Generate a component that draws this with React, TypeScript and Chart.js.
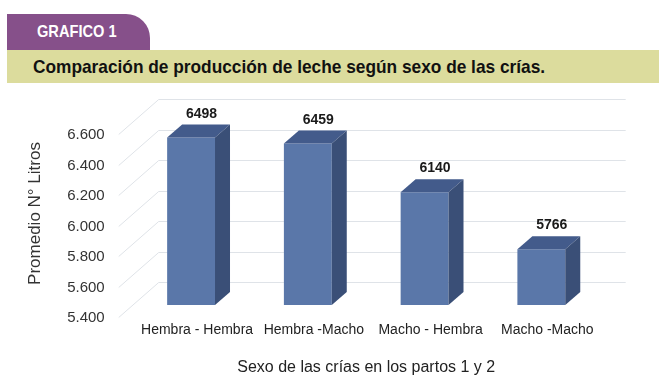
import React, { useEffect, useRef } from 'react';
import { Chart, registerables } from 'chart.js';

Chart.register(...registerables);

// ---- data ----
const categories = ['Hembra - Hembra', 'Hembra -Macho', 'Macho - Hembra', 'Macho -Macho'];
const values = [6498, 6459, 6140, 5766];
const yMin = 5400;
const yMax = 6600;
const yStep = 200;
const header = 'GRAFICO 1';
const chartTitle = 'Comparación de producción de leche según sexo de las crías.';
const yTitle = 'Promedio N° Litros';
const xTitle = 'Sexo de las crías en los partos 1 y 2';

// ---- styles ----
const SANS = "'Liberation Sans', Arial, sans-serif";
const BAR_FRONT = '#5a77a9';
const BAR_TOP = '#435b8b';
const BAR_SIDE = '#3a4f77';
const GRID = '#dfe3e8';
const BAR_DEPTH = { dx: 15, dy: -13 };
const WALL = { dx: 26, dy: -23 };
const FRONT = { dx: -14, dy: 12 };

const fmt = (v: number) => {
  const s = String(Math.round(v));
  return s.length > 3 ? s.slice(0, s.length - 3) + '.' + s.slice(s.length - 3) : s;
};

const threeD = {
  id: 'threeD',
  beforeDatasetsDraw(chart: any) {
    const { ctx, chartArea, scales } = chart;
    const y = scales.y;
    ctx.save();
    ctx.strokeStyle = GRID;
    ctx.lineWidth = 1;
    y.ticks.forEach((t: any) => {
      const py = Math.round(y.getPixelForValue(t.value)) + 0.5;
      ctx.beginPath();
      ctx.moveTo(chartArea.left + FRONT.dx, py + FRONT.dy);
      ctx.lineTo(chartArea.left + WALL.dx, py + WALL.dy);
      ctx.lineTo(chartArea.right + WALL.dx, py + WALL.dy);
      ctx.stroke();
    });
    ctx.restore();
  },
  afterDatasetsDraw(chart: any) {
    const { ctx, scales } = chart;
    const meta = chart.getDatasetMeta(0);
    const base = scales.y.getPixelForValue(scales.y.min);
    ctx.save();
    meta.data.forEach((bar: any, i: number) => {
      const { x, y, width } = bar.getProps(['x', 'y', 'width'], true);
      const l = x - width / 2;
      const r = x + width / 2;
      const { dx, dy } = BAR_DEPTH;
      // top face
      ctx.fillStyle = BAR_TOP;
      ctx.beginPath();
      ctx.moveTo(l, y);
      ctx.lineTo(l + dx, y + dy);
      ctx.lineTo(r + dx, y + dy);
      ctx.lineTo(r, y);
      ctx.closePath();
      ctx.fill();
      // side face
      ctx.fillStyle = BAR_SIDE;
      ctx.beginPath();
      ctx.moveTo(r, y);
      ctx.lineTo(r + dx, y + dy);
      ctx.lineTo(r + dx, base + dy);
      ctx.lineTo(r, base);
      ctx.closePath();
      ctx.fill();
      // value label
      ctx.fillStyle = '#1a1a1a';
      ctx.font = `bold 14px ${SANS}`;
      ctx.textAlign = 'center';
      ctx.textBaseline = 'alphabetic';
      ctx.fillText(String(values[i]), x + dx * 0.7, y + dy - 7);
    });
    ctx.restore();
  },
};

export default function App() {
  const ref = useRef<HTMLCanvasElement>(null);
  useEffect(() => {
    document.body.style.margin = '0';
    const chart = new Chart(ref.current as HTMLCanvasElement, {
      type: 'bar',
      data: {
        labels: categories,
        datasets: [
          {
            data: values,
            backgroundColor: BAR_FRONT,
            borderWidth: 0,
            barPercentage: 0.41,
            categoryPercentage: 1,
          },
        ],
      },
      options: {
        animation: false,
        responsive: false,
        maintainAspectRatio: false,
        layout: { padding: { left: 0, right: 59.3, top: 33, bottom: 0 } },
        plugins: {
          legend: { display: false },
          tooltip: { enabled: false },
        },
        scales: {
          x: {
            offset: true,
            grid: { display: false, drawTicks: false },
            border: { display: false },
            ticks: {
              font: { family: SANS, size: 14 },
              color: '#222',
              padding: 17,
              labelOffset: 6,
              maxRotation: 0,
              autoSkip: false,
            },
            title: {
              display: true,
              text: xTitle,
              font: { family: SANS, size: 16 },
              color: '#222',
              padding: { top: 0, bottom: 10 },
            },
            afterFit: (s: any) => {
              s.height = 82;
            },
          },
          y: {
            min: yMin,
            max: yMax,
            grid: { display: false, drawTicks: false },
            border: { display: false },
            ticks: {
              stepSize: yStep,
              callback: (v: any) => fmt(Number(v)),
              font: { family: SANS, size: 15 },
              color: '#333',
              padding: 28,
              labelOffset: 13,
            },
            title: {
              display: true,
              text: yTitle,
              font: { family: SANS, size: 17 },
              color: '#333',
              padding: { top: 25, bottom: 0 },
            },
            afterFit: (s: any) => {
              s.width = 132.7;
            },
          },
        },
      },
      plugins: [threeD],
    });
    return () => chart.destroy();
  }, []);

  return (
    <div style={{ position: 'absolute', left: 0, top: 0, width: 659, height: 387, background: '#fff', overflow: 'hidden' }}>
      <div
        style={{
          position: 'absolute',
          left: 7,
          top: 14,
          width: 143,
          height: 36,
          background: '#86508a',
          borderTopRightRadius: 24,
        }}
      >
        <span
          style={{
            position: 'absolute',
            left: 30,
            top: 0,
            color: '#fff',
            fontFamily: SANS,
            fontWeight: 'bold',
            fontSize: 17,
            lineHeight: '36px',
            whiteSpace: 'nowrap',
            transform: 'scaleX(0.86)',
            transformOrigin: 'left center',
          }}
        >
          {header}
        </span>
      </div>
      <div
        style={{
          position: 'absolute',
          left: 7,
          top: 50,
          width: 652,
          height: 33,
          background: '#dcdc9d',
        }}
      >
        <span
          style={{
            position: 'absolute',
            left: 26,
            top: 0,
            color: '#111',
            fontFamily: SANS,
            fontWeight: 'bold',
            fontSize: 19,
            lineHeight: '33px',
            whiteSpace: 'nowrap',
            transform: 'scaleX(0.91)',
            transformOrigin: 'left center',
          }}
        >
          {chartTitle}
        </span>
      </div>
      <canvas
        ref={ref}
        width={659}
        height={302}
        style={{ position: 'absolute', left: 0, top: 85, width: 659, height: 302, display: 'block' }}
      />
    </div>
  );
}
